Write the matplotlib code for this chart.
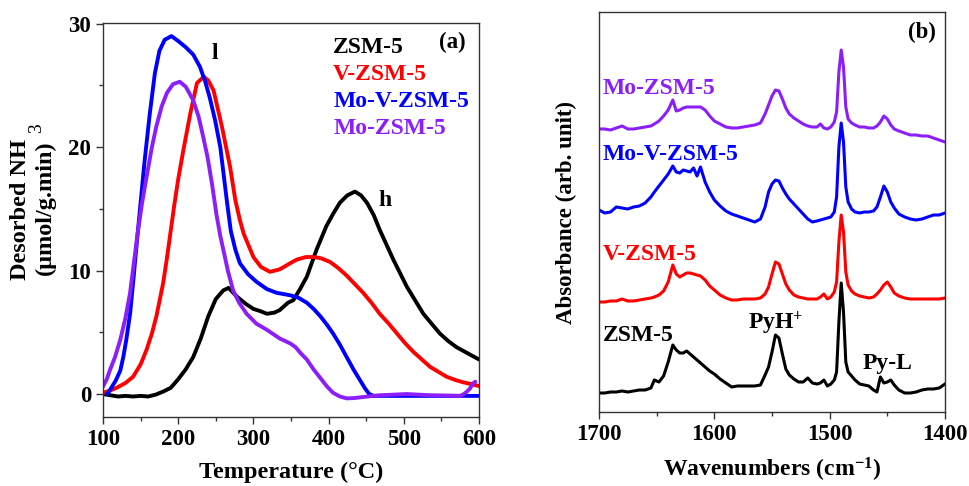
import matplotlib
matplotlib.use("Agg")
import matplotlib.pyplot as plt
from matplotlib.ticker import MultipleLocator

# ---------------- Panel (a): NH3-TPD ----------------
T_zsm = [100, 110, 120, 130, 140, 150, 160, 170, 180, 190, 200, 210, 220, 230, 240, 250, 260, 267,
         278, 290, 300, 310, 318, 328, 335, 346, 353, 362, 371, 384, 397, 406, 415, 425, 435, 443,
         451, 460, 468, 477, 486, 495, 504, 515, 526, 537, 548, 559, 570, 585, 600]
v_zsm = [0.0, -0.1, -0.2, -0.15, -0.2, -0.15, -0.2, -0.05, 0.2, 0.5, 1.2, 2.0, 3.0, 4.5, 6.3, 7.7, 8.4, 8.6,
         7.9, 7.3, 6.9, 6.7, 6.5, 6.6, 6.8, 7.4, 7.6, 8.5, 9.5, 11.7, 13.6, 14.6, 15.5, 16.1, 16.4, 16.1,
         15.5, 14.5, 13.3, 12.1, 10.9, 9.8, 8.7, 7.6, 6.5, 5.7, 4.9, 4.3, 3.8, 3.3, 2.8]

T_v = [100, 110, 118, 130, 140, 150, 158, 165, 171, 180, 185, 190, 195, 200, 207, 216, 225, 234, 240,
       247, 258, 269, 276, 282, 287, 300, 310, 322, 335, 349, 358, 370, 380, 390, 402, 413, 424, 435,
       446, 457, 468, 480, 491, 502, 513, 524, 535, 546, 557, 568, 579, 590, 600]
v_v = [0.1, 0.3, 0.5, 0.9, 1.4, 2.4, 3.6, 4.9, 6.3, 9.0, 11.0, 13.2, 15.4, 17.4, 19.8, 22.7, 25.2, 25.7, 25.4,
       24.6, 21.7, 18.4, 15.7, 14.1, 13.0, 11.1, 10.3, 9.9, 10.1, 10.6, 10.9, 11.1, 11.1, 11.0, 10.7, 10.2, 9.6, 8.9,
       8.2, 7.4, 6.5, 5.7, 4.9, 4.1, 3.4, 2.8, 2.2, 1.8, 1.4, 1.15, 0.95, 0.8, 0.65]

T_mov = [105, 107, 111, 117, 123, 127, 131, 136, 140, 145, 150, 155, 162, 169, 175, 182, 191, 200, 210,
         220, 229, 236, 242, 249, 256, 260, 265, 270, 276, 282, 293, 304, 318, 331, 349, 360, 371, 380,
         389, 398, 406, 415, 424, 433, 442, 448, 454, 460, 600]
v_mov = [0.0, 0.1, 0.5, 1.1, 1.9, 3.0, 4.4, 6.5, 9.0, 12.3, 15.5, 18.7, 22.6, 26.0, 27.8, 28.7, 29.0, 28.6, 28.1,
         27.5, 26.5, 25.3, 24.0, 22.2, 20.0, 18.0, 15.5, 13.2, 11.7, 10.6, 9.7, 9.1, 8.5, 8.2, 8.0, 7.8, 7.4, 6.9,
         6.3, 5.6, 4.9, 4.0, 3.0, 2.0, 1.1, 0.5, 0.0, -0.15, -0.15]

T_mo = [100, 105, 109, 116, 123, 130, 136, 146, 152, 158, 165, 171, 178, 185, 193, 202, 210, 220, 227,
        233, 239, 245, 251, 256, 260, 266, 273, 281, 291, 304, 318, 335, 349, 356, 363, 371, 380, 389,
        398, 406, 415, 424, 433, 442, 455, 468, 486, 504, 520, 535, 555, 575, 580, 584, 588, 592, 595]
v_mo = [0.6, 1.2, 1.9, 3.0, 4.4, 6.2, 8.2, 13.0, 15.5, 17.6, 20.0, 21.7, 23.3, 24.4, 25.1, 25.3, 24.9, 23.8, 22.5,
        20.9, 19.2, 17.0, 14.5, 12.8, 11.7, 10.0, 8.4, 7.4, 6.5, 5.7, 5.2, 4.5, 4.1, 3.8, 3.3, 2.8, 2.0, 1.3,
        0.6, 0.1, -0.2, -0.35, -0.33, -0.27, -0.18, -0.1, -0.05, 0.0, -0.05, -0.1, -0.12, -0.15, 0.0, 0.2, 0.45, 0.85, 1.0]

tpd_labels = ["ZSM-5", "V-ZSM-5", "Mo-V-ZSM-5", "Mo-ZSM-5"]
x_ticks_a = [100, 200, 300, 400, 500, 600]
y_ticks_a = [0, 10, 20, 30]

# ---------------- Panel (b): Py-IR ----------------
W = [1700, 1695, 1690, 1685, 1680, 1675, 1670, 1665, 1660, 1655, 1652, 1648, 1644, 1640, 1636, 1633,
     1630, 1627, 1624, 1621, 1618, 1615, 1612, 1608, 1604, 1600, 1595, 1590, 1585, 1580, 1575, 1570,
     1565, 1560, 1556, 1553, 1550, 1547, 1544, 1541, 1538, 1535, 1531, 1527, 1523, 1519, 1515, 1511,
     1508, 1505, 1502, 1499, 1496, 1494, 1492, 1490, 1488, 1486, 1484, 1481, 1478, 1474, 1470, 1466,
     1462, 1459, 1456, 1453, 1450, 1447, 1444, 1440, 1435, 1430, 1425, 1420, 1415, 1410, 1405, 1400]

ir_zsm = [19, 19, 20, 20, 21, 20, 21, 22, 22, 24, 32, 30, 36, 50, 67, 62,
          59, 59, 61, 58, 55, 52, 49, 45, 41, 38, 33, 29, 25, 26, 26, 26,
          26, 27, 37, 45, 60, 77, 74, 58, 43, 37, 33, 30, 30, 34, 29, 28,
          29, 32, 26, 28, 32, 40, 90, 129, 100, 50, 40, 36, 32, 28, 27, 26,
          22, 20, 35, 29, 30, 32, 27, 22, 19, 19, 20, 22, 23, 23, 24, 28]
ir_v = [110, 110, 111, 111, 113, 111, 111, 112, 113, 114, 115, 117, 121, 130, 147, 138,
        135, 137, 139, 139, 138, 137, 136, 132, 126, 122, 117, 114, 112, 112, 113, 113,
        113, 114, 118, 125, 138, 150, 148, 138, 128, 122, 117, 115, 114, 113, 113, 113,
        115, 118, 113, 115, 120, 130, 170, 197, 180, 140, 127, 121, 118, 116, 115, 114,
        115, 118, 122, 127, 130, 125, 119, 116, 114, 113, 113, 113, 113, 113, 113, 114]
ir_mov = [202, 199, 200, 205, 204, 203, 205, 206, 209, 215, 220, 226, 232, 238, 246, 240,
          239, 242, 241, 240, 244, 236, 245, 230, 220, 212, 206, 201, 198, 196, 194, 192,
          190, 193, 205, 220, 228, 232, 231, 224, 218, 213, 208, 203, 198, 193, 190, 191,
          192, 193, 194, 195, 200, 215, 265, 289, 270, 225, 210, 203, 200, 199, 200, 200,
          201, 205, 215, 226, 220, 210, 204, 198, 195, 193, 192, 193, 195, 197, 197, 199]
ir_mo = [283, 283, 282, 284, 286, 283, 283, 284, 285, 286, 288, 291, 296, 302, 312, 301,
         302, 304, 305, 305, 305, 305, 305, 302, 296, 291, 288, 285, 284, 284, 285, 286,
         287, 289, 298, 307, 316, 322, 321, 313, 304, 298, 294, 291, 288, 286, 285, 285,
         288, 284, 283, 285, 290, 300, 340, 362, 345, 305, 293, 289, 287, 285, 285, 284,
         284, 286, 290, 296, 293, 287, 283, 281, 279, 277, 277, 276, 276, 274, 272, 270]
x_ticks_b = [1700, 1600, 1500, 1400]

# ---------------- styling ----------------
plt.rcParams['font.family'] = ['Liberation Serif', 'DejaVu Serif']
plt.rcParams['font.weight'] = 'bold'
plt.rcParams['mathtext.fontset'] = 'custom'
plt.rcParams['mathtext.rm'] = 'Liberation Serif:bold'
plt.rcParams['mathtext.it'] = 'Liberation Serif:bold'
plt.rcParams['mathtext.bf'] = 'Liberation Serif:bold'

C_BLACK = '#000000'
C_RED = '#FF0000'
C_BLUE = '#0000FF'
C_PURPLE = '#8C1EFA'
colors = [C_BLACK, C_RED, C_BLUE, C_PURPLE]

fig = plt.figure(figsize=(9.69, 4.86), dpi=100)
W_PX, H_PX = 969, 486

def ax_rect(l, t, r, b):
    return [l / W_PX, 1 - b / H_PX, (r - l) / W_PX, (b - t) / H_PX]

def fpos(px, py):
    return px / W_PX, 1 - py / H_PX

# ---- (a)
ax1 = fig.add_axes(ax_rect(103, 23, 479, 417))
series_a = [(T_zsm, v_zsm), (T_v, v_v), (T_mov, v_mov), (T_mo, v_mo)]
for (x, y), c in zip(series_a, colors):
    ax1.plot(x, y, color=c, lw=2.8, solid_capstyle='round', solid_joinstyle='round')
ax1.set_xlim(100, 600)
ax1.set_ylim(-1.86, 30.06)
ax1.set_xticks(x_ticks_a)
ax1.set_yticks(y_ticks_a)
ax1.xaxis.set_minor_locator(MultipleLocator(50))
ax1.yaxis.set_minor_locator(MultipleLocator(5))
ax1.tick_params(which='both', direction='out', top=False, right=False, labelsize=16.5, width=1.0, color='#333333')
ax1.tick_params(which='major', length=5)
ax1.tick_params(which='minor', length=3)
for lab in ax1.get_xticklabels() + ax1.get_yticklabels():
    lab.set_fontweight('bold')
for s in ax1.spines.values():
    s.set_linewidth(1.0)
    s.set_color('#333333')
ax1.set_xlabel('Temperature (°C)', fontsize=17.5, fontweight='bold', labelpad=9)

leg_y = [28.1, 25.9, 23.7, 21.5]
for lab, c, yy in zip(tpd_labels, colors, leg_y):
    ax1.text(406, yy, lab, color=c, fontsize=17, fontweight='bold', ha='left', va='center')
ax1.text(565, 28.5, '(a)', fontsize=16.5, fontweight='bold', ha='center', va='center')
ax1.text(249, 27.6, 'l', fontsize=17, fontweight='bold', ha='center', va='center')
ax1.text(475, 15.7, 'h', fontsize=17, fontweight='bold', ha='center', va='center')

# y-label of (a), two lines with the "3" placed after the bracket as in the original
fig.text(*fpos(21, 210), 'Desorbed NH', rotation=90, fontsize=17.5, fontweight='bold', ha='center', va='center')
fig.text(*fpos(45, 208), '(μmol/g.min)', rotation=90, fontsize=17.5, fontweight='bold', ha='center', va='center')
fig.text(*fpos(37, 128), '3', rotation=90, fontsize=14, fontweight='normal', ha='center', va='center')

# ---- (b)
ax2 = fig.add_axes(ax_rect(599, 12, 945, 412))
series_b = [ir_zsm, ir_v, ir_mov, ir_mo]
for y, c in zip(series_b, colors):
    ax2.plot(W, y, color=c, lw=2.2, solid_joinstyle='round')
ax2.set_xlim(1700, 1400)
ax2.set_ylim(0, 400)
ax2.set_xticks(x_ticks_b)
ax2.set_yticks([])
ax2.xaxis.set_minor_locator(MultipleLocator(50))
ax2.tick_params(which='both', direction='out', top=False, right=False, labelsize=16.5, width=1.0, color='#333333')
ax2.tick_params(which='major', length=5)
ax2.tick_params(which='minor', length=3)
for lab in ax2.get_xticklabels():
    lab.set_fontweight('bold')
for s in ax2.spines.values():
    s.set_linewidth(1.0)
    s.set_color('#333333')
ax2.set_xlabel('Wavenumbers (cm$^{-1}$)', fontsize=17, fontweight='bold', labelpad=8)
ax2.set_ylabel('Absorbance (arb. unit)', fontsize=16.5, fontweight='bold', labelpad=16)

ir_label_y = [77, 157, 257, 324]
for lab, c, yy in zip(tpd_labels, colors, ir_label_y):
    ax2.text(1696.5, yy, lab, color=c, fontsize=17, fontweight='bold', ha='left', va='center')
ax2.text(1546.5, 89, 'PyH$^{+}$', fontsize=17, fontweight='bold', ha='center', va='center')
ax2.text(1450, 49, 'Py-L', fontsize=17, fontweight='bold', ha='center', va='center')
ax2.text(1420, 380, '(b)', fontsize=16.5, fontweight='bold', ha='center', va='center')

fig.savefig('out.png', dpi=100)
